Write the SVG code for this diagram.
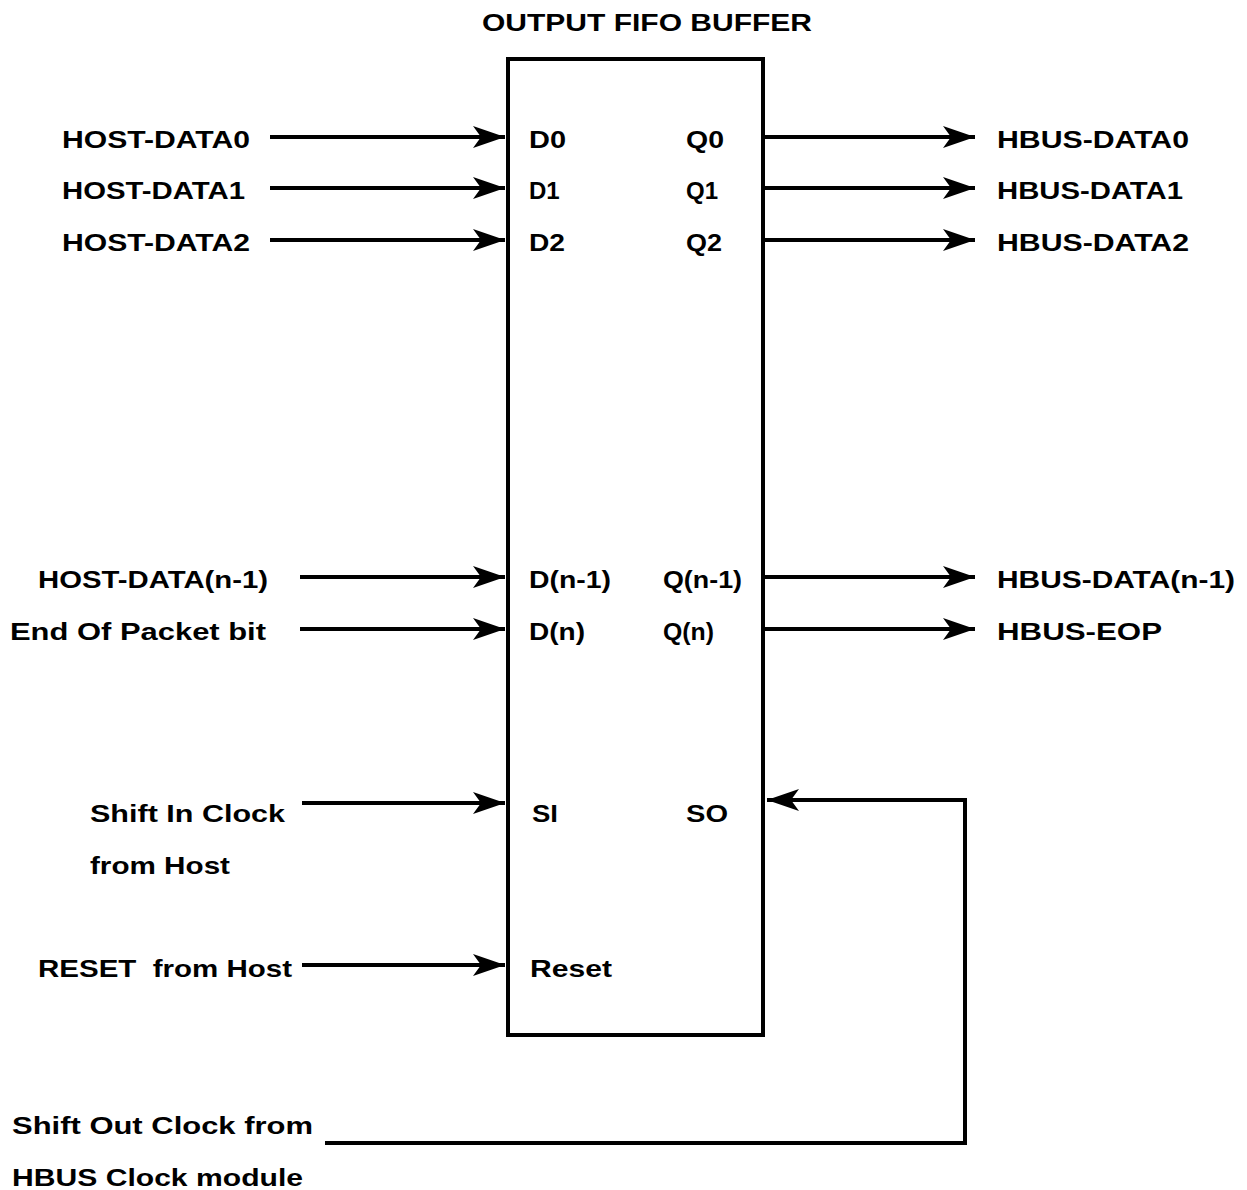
<svg xmlns="http://www.w3.org/2000/svg" width="1247" height="1190" viewBox="0 0 1247 1190">
<style>
text{font-family:"Liberation Sans",Arial,sans-serif;font-weight:bold;font-size:24px;fill:#000}
.ln{stroke:#000;stroke-width:4;fill:none}
.box{stroke:#000;stroke-width:4;fill:#fff}
</style>
<defs>
<marker id="ah" markerUnits="userSpaceOnUse" markerWidth="34" markerHeight="24" viewBox="-32 -12 34 24" refX="0" refY="0" orient="auto">
<path d="M0,0 L-32,-11 L-24,0 L-32,11 Z" fill="#000"/>
</marker>
</defs>
<text x="482" y="31" textLength="330" lengthAdjust="spacingAndGlyphs">OUTPUT FIFO BUFFER</text>
<g id="fifo">
<rect class="box" x="508" y="59" width="255" height="976"/>
<text x="529" y="148" textLength="37" lengthAdjust="spacingAndGlyphs">D0</text>
<text x="529" y="199">D1</text>
<text x="529" y="251" textLength="36" lengthAdjust="spacingAndGlyphs">D2</text>
<text x="686" y="148" textLength="38" lengthAdjust="spacingAndGlyphs">Q0</text>
<text x="686" y="199">Q1</text>
<text x="686" y="251" textLength="36" lengthAdjust="spacingAndGlyphs">Q2</text>
<text x="529" y="588" textLength="82" lengthAdjust="spacingAndGlyphs">D(n-1)</text>
<text x="663" y="588" textLength="79" lengthAdjust="spacingAndGlyphs">Q(n-1)</text>
<text x="529" y="640" textLength="56" lengthAdjust="spacingAndGlyphs">D(n)</text>
<text x="663" y="640" textLength="51" lengthAdjust="spacingAndGlyphs">Q(n)</text>
<text x="532" y="822" textLength="26" lengthAdjust="spacingAndGlyphs">SI</text>
<text x="686" y="822" textLength="42" lengthAdjust="spacingAndGlyphs">SO</text>
<text x="530" y="977" textLength="82" lengthAdjust="spacingAndGlyphs">Reset</text>
</g>
<g id="inputs">
<text x="62" y="148" textLength="188" lengthAdjust="spacingAndGlyphs">HOST-DATA0</text>
<text x="62" y="199" textLength="183" lengthAdjust="spacingAndGlyphs">HOST-DATA1</text>
<text x="62" y="251" textLength="188" lengthAdjust="spacingAndGlyphs">HOST-DATA2</text>
<text x="38" y="588" textLength="230" lengthAdjust="spacingAndGlyphs">HOST-DATA(n-1)</text>
<text x="10" y="640" textLength="256" lengthAdjust="spacingAndGlyphs">End Of Packet bit</text>
<text x="90" y="822" textLength="195" lengthAdjust="spacingAndGlyphs">Shift In Clock</text>
<text x="90" y="874" textLength="140" lengthAdjust="spacingAndGlyphs">from Host</text>
<text x="38" y="977" textLength="254" lengthAdjust="spacingAndGlyphs">RESET&#160; from Host</text>
<text x="12" y="1134" textLength="301" lengthAdjust="spacingAndGlyphs">Shift Out Clock from</text>
<text x="12" y="1186" textLength="291" lengthAdjust="spacingAndGlyphs">HBUS Clock module</text>
</g>
<g id="outputs">
<text x="997" y="148" textLength="192" lengthAdjust="spacingAndGlyphs">HBUS-DATA0</text>
<text x="997" y="199" textLength="186" lengthAdjust="spacingAndGlyphs">HBUS-DATA1</text>
<text x="997" y="251" textLength="192" lengthAdjust="spacingAndGlyphs">HBUS-DATA2</text>
<text x="997" y="588" textLength="238" lengthAdjust="spacingAndGlyphs">HBUS-DATA(n-1)</text>
<text x="997" y="640" textLength="165" lengthAdjust="spacingAndGlyphs">HBUS-EOP</text>
</g>
<g id="connectors">
<line class="ln" x1="270" y1="137" x2="505" y2="137" marker-end="url(#ah)"/>
<line class="ln" x1="270" y1="188" x2="505" y2="188" marker-end="url(#ah)"/>
<line class="ln" x1="270" y1="240" x2="505" y2="240" marker-end="url(#ah)"/>
<line class="ln" x1="300" y1="577" x2="505" y2="577" marker-end="url(#ah)"/>
<line class="ln" x1="300" y1="629" x2="505" y2="629" marker-end="url(#ah)"/>
<line class="ln" x1="302" y1="803" x2="505" y2="803" marker-end="url(#ah)"/>
<line class="ln" x1="302" y1="965" x2="505" y2="965" marker-end="url(#ah)"/>
<line class="ln" x1="765" y1="137" x2="975" y2="137" marker-end="url(#ah)"/>
<line class="ln" x1="765" y1="188" x2="975" y2="188" marker-end="url(#ah)"/>
<line class="ln" x1="765" y1="240" x2="975" y2="240" marker-end="url(#ah)"/>
<line class="ln" x1="765" y1="577" x2="975" y2="577" marker-end="url(#ah)"/>
<line class="ln" x1="765" y1="629" x2="975" y2="629" marker-end="url(#ah)"/>
<polyline class="ln" points="325,1143 965,1143 965,800 767,800" marker-end="url(#ah)"/>
</g>
</svg>
